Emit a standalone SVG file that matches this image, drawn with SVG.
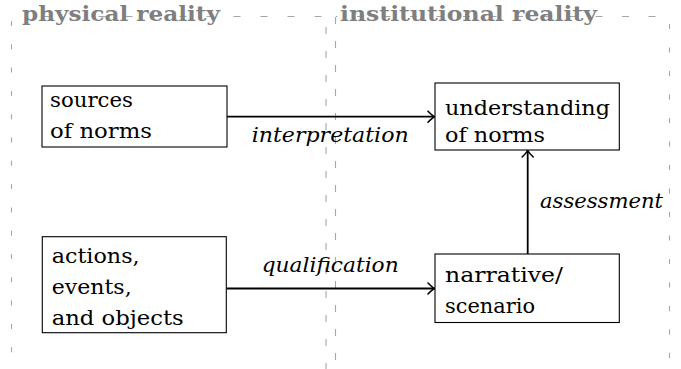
<svg xmlns="http://www.w3.org/2000/svg" width="681" height="369" viewBox="0 0 681 369">
<style>
.bg{fill:#fff}
.frame{stroke:#a6a6a6;stroke-width:1.1;fill:none}
.title{font-family:"DejaVu Serif","Liberation Serif",serif;font-weight:bold;font-size:21px;fill:#7f7f7f}
.box{fill:#fff;stroke:#000;stroke-width:1.1}
.txt{font-family:"DejaVu Serif","Liberation Serif",serif;font-size:20.5px;fill:#000}
.lbl{font-family:"DejaVu Serif","Liberation Serif",serif;font-style:italic;font-size:20.5px;fill:#000}
.edge{stroke:#000;stroke-width:1.8;fill:none}
</style>
<defs>
<marker id="arr" markerUnits="userSpaceOnUse" markerWidth="14" markerHeight="14" viewBox="-8 -7 10 14" refX="0" refY="0" orient="auto">
<path d="M-6.5,-5.5 Q-2,-1 0,0 Q-2,1 -6.5,5.5" fill="none" stroke="#000" stroke-width="1.6" stroke-linecap="round"/>
</marker>
</defs>
<rect class="bg" x="0" y="0" width="681" height="369"/>
<g id="regions">
<line class="frame" x1="44.5" y1="16.5" x2="326" y2="16.5" stroke-dasharray="7 20"/>
<line class="frame" x1="11.5" y1="21" x2="11.5" y2="369" stroke-dasharray="5 18.3"/>
<line class="frame" x1="326" y1="27" x2="326" y2="369" stroke-dasharray="7 17"/>
<line class="frame" x1="336" y1="16.5" x2="669" y2="16.5" stroke-dasharray="7 19.5" stroke-dashoffset="5.5"/>
<line class="frame" x1="335.5" y1="17" x2="335.5" y2="369" stroke-dasharray="7 17"/>
<line class="frame" x1="669.5" y1="24" x2="669.5" y2="369" stroke-dasharray="5 18.5"/>
<text class="title" x="22" y="21" textLength="198" lengthAdjust="spacingAndGlyphs">physical reality</text>
<text class="title" x="340" y="21" textLength="257" lengthAdjust="spacingAndGlyphs">institutional reality</text>
</g>
<g id="connectors">
<line class="edge" x1="227" y1="116.7" x2="434.5" y2="116.7" marker-end="url(#arr)"/>
<text class="lbl" x="251.7" y="141.7" textLength="157" lengthAdjust="spacingAndGlyphs">interpretation</text>
<line class="edge" x1="226.5" y1="288.5" x2="434.5" y2="288.5" marker-end="url(#arr)"/>
<text class="lbl" x="261.7" y="271.7" textLength="137" lengthAdjust="spacingAndGlyphs">qualification</text>
<line class="edge" x1="527.7" y1="254" x2="527.7" y2="150.5" marker-end="url(#arr)"/>
<text class="lbl" x="540" y="208.3" textLength="123" lengthAdjust="spacingAndGlyphs">assessment</text>
</g>
<g id="sources">
<rect class="box" x="42" y="86" width="185" height="61"/>
<text class="txt" x="50" y="106.7" textLength="83" lengthAdjust="spacingAndGlyphs">sources</text>
<text class="txt" x="50" y="138.3" textLength="102" lengthAdjust="spacingAndGlyphs">of norms</text>
</g>
<g id="understanding">
<rect class="box" x="435" y="83" width="184.3" height="67"/>
<text class="txt" x="445" y="115" textLength="165" lengthAdjust="spacingAndGlyphs">understanding</text>
<text class="txt" x="445" y="141.7" textLength="100" lengthAdjust="spacingAndGlyphs">of norms</text>
</g>
<g id="actions">
<rect class="box" x="42.3" y="236.7" width="184" height="96"/>
<text class="txt" x="51.7" y="263" textLength="88" lengthAdjust="spacingAndGlyphs">actions,</text>
<text class="txt" x="51.7" y="294" textLength="80" lengthAdjust="spacingAndGlyphs">events,</text>
<text class="txt" x="51.7" y="325" textLength="132" lengthAdjust="spacingAndGlyphs">and objects</text>
</g>
<g id="narrative">
<rect class="box" x="435" y="254" width="184.3" height="68.5"/>
<text class="txt" x="445" y="281.7" textLength="118" lengthAdjust="spacingAndGlyphs">narrative/</text>
<text class="txt" x="445" y="313" textLength="90" lengthAdjust="spacingAndGlyphs">scenario</text>
</g>
</svg>
